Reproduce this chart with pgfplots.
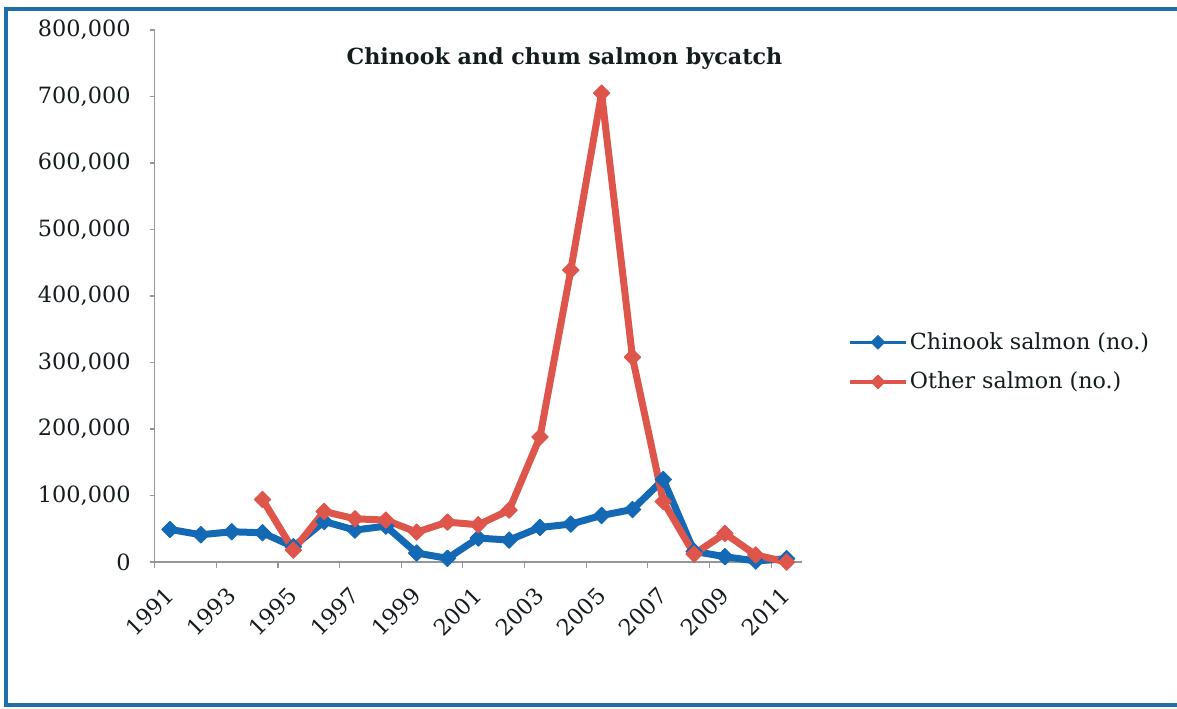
\documentclass[border=0pt]{standalone}
\usepackage{fontspec}
\setmainfont{DejaVu Serif}
\usepackage{pgfplots}
\pgfplotsset{compat=1.18}
\definecolor{cblue}{RGB}{20,105,180}
\definecolor{cred}{RGB}{222,85,75}
\definecolor{frameblue}{RGB}{30,110,170}
\definecolor{axgray}{RGB}{150,150,150}
\definecolor{txt}{RGB}{20,28,30}
\begin{document}
\begin{tikzpicture}
\useasboundingbox (0,0) rectangle (588.5pt,-354pt);
\draw[frameblue, line width=2.2pt] (595pt,-4.5pt) -- (3pt,-4.5pt) -- (3pt,-352.5pt) -- (595pt,-352.5pt);
\begin{axis}[
  at={(77.3pt,-281pt)}, anchor=south west,
  scale only axis, width=323.7pt, height=266pt,
  xmin=1990.5, xmax=2011.5, ymin=0, ymax=800000,
  axis lines*=left,
  axis line style={axgray, line width=0.6pt},
  tick align=outside,
  major tick length=2.5pt, minor tick length=3pt,
  tick style={axgray, line width=0.6pt},
  xtick={1991,1993,...,2011},
  xticklabels={1991,1993,1995,1997,1999,2001,2003,2005,2007,2009,2011},
  major x tick style={draw=none},
  minor xtick={1990.5,1992.5,1994.5,1996.5,1998.5,2000.5,2002.5,2004.5,2006.5,2008.5,2010.5},
  ytick={0,100000,...,800000},
  scaled y ticks=false,
  /pgf/number format/.cd, fixed, 1000 sep={,}, assume math mode=true,
  /pgfplots/.cd,
  ticklabel style={font=\fontsize{11.2}{13}\selectfont, text=txt},
  xticklabel style={rotate=45, anchor=east, inner sep=0pt},
  xticklabel shift=12pt,
  yticklabel shift=6pt,
  title={Chinook and chum salmon bycatch},
  title style={at={(0.633,0.923)}, anchor=center, font=\bfseries\fontsize{11.1}{13}\selectfont, text=txt},
  clip=false,
  legend style={draw=none, fill=none, at={(1.071,0.437)}, anchor=north west,
    inner sep=0pt, row sep=7.5pt, font=\fontsize{11.1}{13}\selectfont, text=txt,
    nodes={inner sep=1.2pt}},
  legend cell align=left,
  legend image code/.code={\draw[line width=1.6pt, mark size=2.4pt, mark repeat=2, mark phase=2] plot coordinates {(0pt,0pt) (14pt,0pt) (28pt,0pt)};},
  every axis plot/.append style={line join=round},
]
\addplot[cblue, line width=3.5pt, mark=square*, mark size=2.9pt, mark options={rotate=45, line width=0.5pt}] coordinates {
(1991,49000) (1992,41000) (1993,45500) (1994,44000) (1995,23000)
(1996,61000) (1997,48000) (1998,54000) (1999,13500) (2000,5500)
(2001,36000) (2002,33000) (2003,52000) (2004,57000) (2005,70000)
(2006,79000) (2007,124000) (2008,16000) (2009,8000) (2010,1500) (2011,5000)
};
\addlegendentry{Chinook salmon (no.)}
\addplot[cred, line width=3.5pt, mark=square*, mark size=2.9pt, mark options={rotate=45, line width=0.5pt}] coordinates {
(1994,94000) (1995,18000) (1996,76000) (1997,65000) (1998,63000)
(1999,45000) (2000,60000) (2001,56000) (2002,78000) (2003,188000)
(2004,439000) (2005,705000) (2006,308000) (2007,91000) (2008,12000)
(2009,43000) (2010,10500) (2011,0)
};
\addlegendentry{Other salmon (no.)}
\end{axis}
\end{tikzpicture}
\end{document}
